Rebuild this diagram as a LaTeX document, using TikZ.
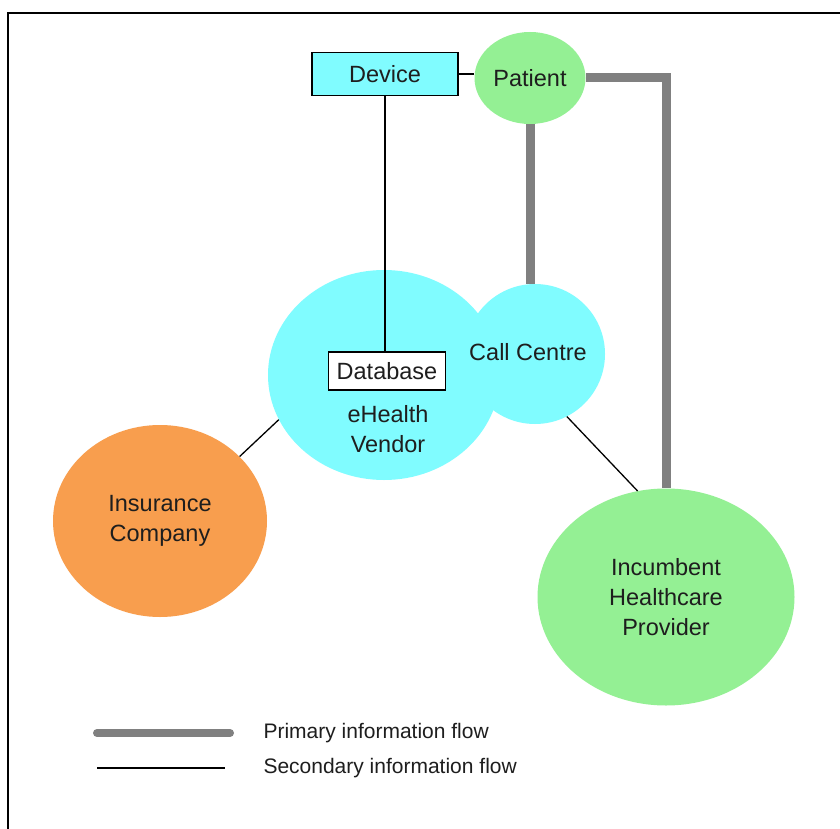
\documentclass[tikz,border=0pt]{standalone}
\usepackage{fontspec}
\setmainfont{Liberation Sans}
\usetikzlibrary{shapes.geometric}
\definecolor{vcyan}{RGB}{128,252,255}
\definecolor{vgreen}{RGB}{148,240,148}
\definecolor{vorange}{RGB}{248,158,78}
\definecolor{flowgray}{RGB}{128,128,128}
\definecolor{txt}{RGB}{30,30,30}
\tikzset{
  lblfont/.style={font=\fontsize{23.5}{30}\selectfont},
  blob/.style={ellipse, draw=none, inner sep=0pt, text=txt, align=center, lblfont},
  boxnode/.style={rectangle, draw=black, line width=1.5pt, inner sep=0pt, text=txt, lblfont},
  primary/.style={draw=flowgray, line width=9pt},
  secondary/.style={draw=black, line width=1.3pt},
  legendtext/.style={anchor=west, text=txt, font=\fontsize{21}{24}\selectfont}
}
\begin{document}
\begin{tikzpicture}[x=1pt,y=-1pt]
\useasboundingbox (0,0) rectangle (840,829);
\fill[white] (0,0) rectangle (840,829);
\draw[line width=2pt] (840,13) -- (8,13) -- (8,829);

% ellipses
\node[blob, fill=vcyan, minimum width=232, minimum height=210] (vendor) at (384,375) {};
\node[blob, fill=vcyan, minimum width=140, minimum height=140] (cc) at (535,354) {};
\node[text=txt, align=center, lblfont] (ccl) at (528,352) {Call Centre};
\node[text=txt, align=center, lblfont] (vendorl) at (388,429) {eHealth\\Vendor};
\node[blob, fill=vgreen, minimum width=111, minimum height=92] (patient) at (530,78) {Patient};
\node[blob, fill=vgreen, minimum width=257, minimum height=217] (inc) at (666,597) {Incumbent\\Healthcare\\Provider};
\node[blob, fill=vorange, minimum width=214, minimum height=192] (ins) at (160,521) {Insurance\\Company};

% boxes
\node[boxnode, fill=vcyan, minimum width=146, minimum height=43] (device) at (385,74) {Device};
\node[boxnode, fill=white, minimum width=117, minimum height=38] (db) at (387,371) {Database};

% primary flows
\draw[primary] (patient.south) -- (patient.south |- cc.north);
\draw[primary] (patient.east) -| (inc.north);

% secondary flows
\draw[secondary] (device.east) -- (device.east -| patient.west);
\draw[secondary] (device.south) -- (device.south |- db.north);
\draw[secondary] (cc.-63) -- (inc.105);
\draw[secondary] (ins.39) -- (vendor.203.5);

% legend
\coordinate (p1) at (97,733);
\coordinate (p2) at (230,733);
\coordinate (s1) at (97,768);
\coordinate (s2) at (225,768);
\draw[primary, line width=8pt, line cap=round] (p1) -- (p2);
\draw[secondary] (s1) -- (s2);
\node[legendtext] (pl) at (260,733) {Primary information flow};
\node[legendtext] (sl) at (260,768) {Secondary information flow};
\end{tikzpicture}
\end{document}
